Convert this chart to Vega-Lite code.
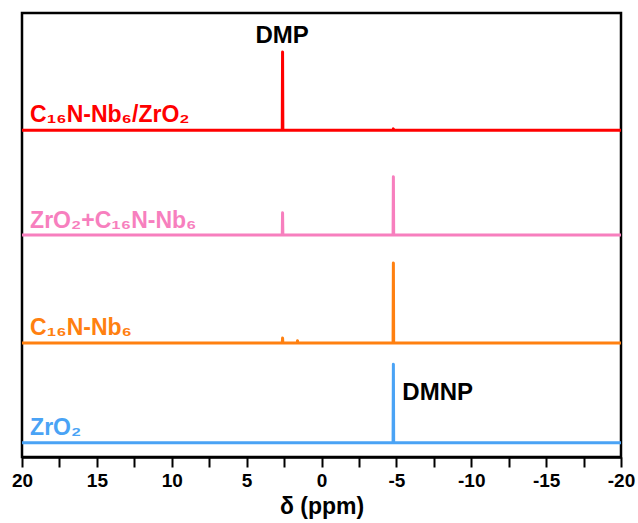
{
  "$schema": "https://vega.github.io/schema/vega-lite/v6.json",
  "width": 599,
  "height": 444,
  "autosize": {"type": "none"},
  "padding": {"left": 22, "top": 13, "right": 17, "bottom": 66},
  "background": "white",
  "config": {
    "view": {"stroke": "black", "strokeWidth": 2.5},
    "font": "Liberation Sans"
  },
  "datasets": {
    "spectra": [
      {"series": "C16N-Nb6/ZrO2", "ppm": 20, "intensity": 73.6},
      {"series": "C16N-Nb6/ZrO2", "ppm": 2.62, "intensity": 73.6},
      {"series": "C16N-Nb6/ZrO2", "ppm": 2.6, "intensity": 91.2},
      {"series": "C16N-Nb6/ZrO2", "ppm": 2.58, "intensity": 73.6},
      {"series": "C16N-Nb6/ZrO2", "ppm": -4.78, "intensity": 73.6},
      {"series": "C16N-Nb6/ZrO2", "ppm": -4.8, "intensity": 73.9},
      {"series": "C16N-Nb6/ZrO2", "ppm": -4.82, "intensity": 73.6},
      {"series": "C16N-Nb6/ZrO2", "ppm": -20, "intensity": 73.6},
      {"series": "ZrO2+C16N-Nb6", "ppm": 20, "intensity": 50.0},
      {"series": "ZrO2+C16N-Nb6", "ppm": 2.62, "intensity": 50.0},
      {"series": "ZrO2+C16N-Nb6", "ppm": 2.6, "intensity": 55.0},
      {"series": "ZrO2+C16N-Nb6", "ppm": 2.58, "intensity": 50.0},
      {"series": "ZrO2+C16N-Nb6", "ppm": -4.78, "intensity": 50.0},
      {"series": "ZrO2+C16N-Nb6", "ppm": -4.8, "intensity": 63.1},
      {"series": "ZrO2+C16N-Nb6", "ppm": -4.82, "intensity": 50.0},
      {"series": "ZrO2+C16N-Nb6", "ppm": -20, "intensity": 50.0},
      {"series": "C16N-Nb6", "ppm": 20, "intensity": 25.7},
      {"series": "C16N-Nb6", "ppm": 2.62, "intensity": 25.7},
      {"series": "C16N-Nb6", "ppm": 2.6, "intensity": 26.8},
      {"series": "C16N-Nb6", "ppm": 2.58, "intensity": 25.7},
      {"series": "C16N-Nb6", "ppm": 1.62, "intensity": 25.7},
      {"series": "C16N-Nb6", "ppm": 1.6, "intensity": 26.2},
      {"series": "C16N-Nb6", "ppm": 1.58, "intensity": 25.7},
      {"series": "C16N-Nb6", "ppm": -4.78, "intensity": 25.7},
      {"series": "C16N-Nb6", "ppm": -4.8, "intensity": 43.7},
      {"series": "C16N-Nb6", "ppm": -4.82, "intensity": 25.7},
      {"series": "C16N-Nb6", "ppm": -20, "intensity": 25.7},
      {"series": "ZrO2", "ppm": 20, "intensity": 3.2},
      {"series": "ZrO2", "ppm": -4.78, "intensity": 3.2},
      {"series": "ZrO2", "ppm": -4.8, "intensity": 20.9},
      {"series": "ZrO2", "ppm": -4.82, "intensity": 3.2},
      {"series": "ZrO2", "ppm": -20, "intensity": 3.2}
    ],
    "labels": [
      {"series": "C16N-Nb6/ZrO2", "text": "C₁₆N-Nb₆/ZrO₂", "ppm": 19.46, "intensity": 75.5},
      {"series": "ZrO2+C16N-Nb6", "text": "ZrO₂+C₁₆N-Nb₆", "ppm": 19.46, "intensity": 51.5},
      {"series": "C16N-Nb6", "text": "C₁₆N-Nb₆", "ppm": 19.46, "intensity": 27.5},
      {"series": "ZrO2", "text": "ZrO₂", "ppm": 19.46, "intensity": 4.95}
    ],
    "peaks": [
      {"text": "DMP", "ppm": 4.41, "intensity": 93.2},
      {"text": "DMNP", "ppm": -5.4, "intensity": 12.8}
    ]
  },
  "layer": [
    {
      "data": {"name": "spectra"},
      "mark": {"type": "line", "strokeWidth": 3, "interpolate": "linear", "strokeJoin": "round"},
      "encoding": {
        "x": {
          "field": "ppm", "type": "quantitative",
          "scale": {"domain": [-20, 20], "reverse": true, "nice": false, "zero": false},
          "axis": {
            "values": [20, 17.5, 15, 12.5, 10, 7.5, 5, 2.5, 0, -2.5, -5, -7.5, -10, -12.5, -15, -17.5, -20],
            "tickCount": 40,
            "labelExpr": "datum.value % 5 === 0 ? toString(datum.value) : ''",
            "tickSize": 10,
            "tickWidth": 2,
            "tickColor": "black",
            "domainColor": "black",
            "domainWidth": 2.5,
            "grid": false,
            "labelFont": "Liberation Sans",
            "labelFontWeight": "bold",
            "labelFontSize": 19,
            "labelColor": "black",
            "labelPadding": 4,
            "labelFlush": false,
            "labelOverlap": false,
            "title": "δ (ppm)",
            "titleFont": "Liberation Sans",
            "titleFontWeight": "bold",
            "titleFontSize": 23,
            "titleColor": "black",
            "titlePadding": 5,
            "encode": {
              "ticks": {
                "update": {
                  "y2": {"signal": "datum.value % 5 === 0 ? 10 : 6"}
                }
              }
            }
          }
        },
        "y": {
          "field": "intensity", "type": "quantitative",
          "scale": {"domain": [0, 100], "nice": false, "zero": false},
          "axis": null
        },
        "color": {
          "field": "series", "type": "nominal",
          "scale": {
            "domain": ["C16N-Nb6/ZrO2", "ZrO2+C16N-Nb6", "C16N-Nb6", "ZrO2"],
            "range": ["#ff0000", "#f77fbe", "#ff8010", "#4aa3f5"]
          },
          "legend": null
        }
      }
    },
    {
      "data": {"name": "labels"},
      "mark": {"type": "text", "align": "left", "baseline": "alphabetic", "font": "Liberation Sans", "fontWeight": "bold", "fontSize": 23},
      "encoding": {
        "x": {"field": "ppm", "type": "quantitative"},
        "y": {"field": "intensity", "type": "quantitative"},
        "text": {"field": "text"},
        "color": {"field": "series", "type": "nominal", "legend": null}
      }
    },
    {
      "data": {"name": "peaks"},
      "mark": {"type": "text", "align": "left", "baseline": "alphabetic", "font": "Liberation Sans", "fontWeight": "bold", "fontSize": 24, "color": "black"},
      "encoding": {
        "x": {"field": "ppm", "type": "quantitative"},
        "y": {"field": "intensity", "type": "quantitative"},
        "text": {"field": "text"}
      }
    }
  ]
}
